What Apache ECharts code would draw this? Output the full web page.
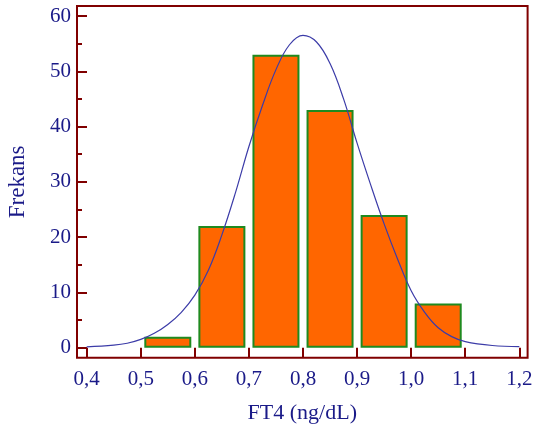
<!DOCTYPE html>
<html>
<head>
<meta charset="utf-8">
<script src="https://cdn.jsdelivr.net/npm/echarts@6/dist/echarts.min.js"></script>
<style>html,body{margin:0;padding:0;background:#fff}#c{width:533px;height:432px}</style>
</head>
<body>
<div id="c"></div>
<script>
// Histogram bins (lower edge) and counts
const binStarts = [0.5, 0.6, 0.7, 0.8, 0.9, 1.0];
const counts = [2, 22, 53, 43, 24, 8];
// Fitted curve
const curveX = [0.40, 0.45, 0.475, 0.50, 0.525, 0.55, 0.575, 0.60, 0.625, 0.65, 0.675, 0.70, 0.725, 0.75, 0.775, 0.80, 0.825, 0.85, 0.875, 0.90, 0.925, 0.95, 0.975, 1.00, 1.025, 1.05, 1.075, 1.10, 1.15, 1.20];
const curveY = [0.15, 0.45, 0.8, 1.5, 2.6, 4.2, 6.4, 9.5, 14.0, 20.4, 28.0, 36.4, 43.8, 50.3, 54.8, 56.5, 55.3, 51.4, 45.0, 37.0, 29.5, 22.4, 16.0, 10.3, 6.4, 3.6, 2.0, 1.1, 0.4, 0.2];
// Tick values and labels
const xTicks = [0.4, 0.5, 0.6, 0.7, 0.8, 0.9, 1.0, 1.1, 1.2];
const xTickLabels = ['0,4', '0,5', '0,6', '0,7', '0,8', '0,9', '1,0', '1,1', '1,2'];
const yTicks = [0, 10, 20, 30, 40, 50, 60];
const yTickLabels = ['0', '10', '20', '30', '40', '50', '60'];
const yMinorTicks = [5, 15, 25, 35, 45, 55];
const xTitle = 'FT4 (ng/dL)';
const yTitle = 'Frekans';

const frameColor = '#800000';
const tickColor = '#800000';
const textColor = '#1a1a88';
const font = 'Liberation Serif';

const xMin = 0.3821, xMax = 1.2153;
const yMin = -1.81, yMax = 61.81;

const chart = echarts.init(document.getElementById('c'));
chart.setOption({
  animation: false,
  grid: { left: 77, right: 5.4, top: 6, bottom: 74.3, outerBoundsMode: 'none', containLabel: false,
          show: true, borderColor: frameColor, borderWidth: 2, backgroundColor: 'transparent' },
  xAxis: {
    type: 'value', min: xMin, max: xMax, position: 'bottom',
    axisLine: { show: false, onZero: false },
    axisTick: { show: true, inside: true, length: 10, customValues: xTicks, lineStyle: { color: tickColor, width: 2 } },
    splitLine: { show: false },
    axisLabel: {
      margin: 11, color: textColor, fontFamily: font, fontSize: 21, customValues: xTicks,
      formatter: v => xTickLabels[xTicks.findIndex(t => Math.abs(t - v) < 1e-6)]
    },
    name: xTitle, nameLocation: 'middle', nameGap: 45,
    nameTextStyle: { color: textColor, fontFamily: font, fontSize: 22 }
  },
  yAxis: [
    {
      type: 'value', min: yMin, max: yMax, position: 'left',
      axisLine: { show: false, onZero: false },
      axisTick: { show: true, inside: true, length: 10, customValues: yTicks, lineStyle: { color: tickColor, width: 2 } },
      splitLine: { show: false },
      axisLabel: {
        margin: 6, color: textColor, fontFamily: font, fontSize: 21, customValues: yTicks,
        formatter: v => yTickLabels[yTicks.findIndex(t => Math.abs(t - v) < 1e-6)]
      },
      name: yTitle, nameLocation: 'middle', nameGap: 48, nameRotate: 90,
      nameTextStyle: { color: textColor, fontFamily: font, fontSize: 23 }
    },
    {
      type: 'value', min: yMin, max: yMax, position: 'left', offset: 0,
      axisLine: { show: false, onZero: false },
      axisTick: { show: true, inside: true, length: 5, customValues: yMinorTicks, lineStyle: { color: tickColor, width: 2 } },
      splitLine: { show: false },
      axisLabel: { show: false }
    }
  ],
  series: [
    {
      type: 'bar', xAxisIndex: 0, yAxisIndex: 0,
      data: binStarts.map((s, i) => [s + 0.05, counts[i]]),
      barWidth: 47,
      itemStyle: { color: '#ff6600', borderColor: '#1f8a1f', borderWidth: 2 },
      z: 2
    },
    {
      type: 'line', xAxisIndex: 0, yAxisIndex: 0,
      data: curveX.map((x, i) => [x, curveY[i]]),
      smooth: 0.4, showSymbol: false, symbol: 'none',
      lineStyle: { color: '#3c3ca8', width: 1.2 },
      z: 3
    }
  ]
});
</script>
</body>
</html>
